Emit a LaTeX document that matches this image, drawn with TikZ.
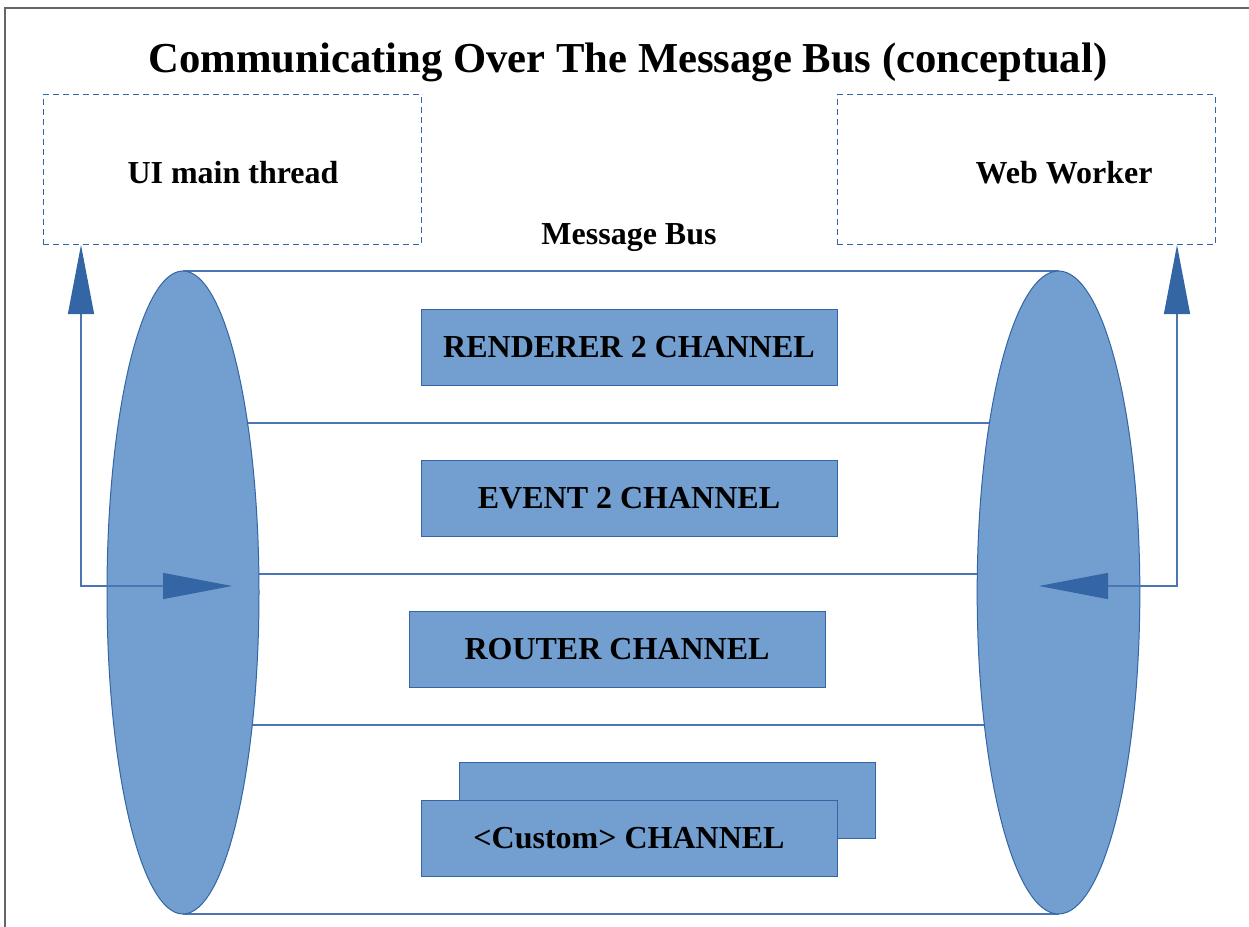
\documentclass[tikz,border=0pt]{standalone}
\usepackage{fontspec}
\setmainfont{Liberation Serif}
\usetikzlibrary{shapes.geometric,arrows.meta,backgrounds}
\definecolor{fillblue}{HTML}{729FCF}
\definecolor{edgeblue}{HTML}{3465A4}
\definecolor{lineblue}{HTML}{4A76B8}
\begin{document}
\begin{tikzpicture}[x=0.75pt,y=-0.75pt,
  lbl/.style={font=\bfseries\fontsize{24}{28}\selectfont},
  chan/.style={lbl, draw=edgeblue, fill=fillblue, line width=0.75pt, minimum width=312pt, minimum height=57pt, inner sep=0pt, outer sep=0pt},
  side/.style={draw=edgeblue, dash pattern=on 4.5pt off 3pt, line width=0.75pt, minimum width=283.5pt, minimum height=112.5pt, inner sep=0pt, outer sep=0pt},
  disc/.style={ellipse, draw=edgeblue, fill=fillblue, line width=0.75pt, minimum height=482.25pt, inner sep=0pt, outer sep=0pt},
  rail/.style={draw=lineblue, line width=0.9pt},
  link/.style={rail, {Triangle[length=51.75pt,width=19.5pt,color=edgeblue,fill=edgeblue]}-{Triangle[length=51.75pt,width=19.5pt,color=edgeblue,fill=edgeblue]}}
]
\useasboundingbox (0,0) rectangle (1249,927);
\draw[gray!80!black, line width=1.5pt] (5,927) -- (5,8) -- (1249,8);

\node[font=\bfseries\fontsize{32}{38}\selectfont] (title) at (628,62) {Communicating Over The Message Bus (conceptual)};

\node[side] (ui) at (232,170) {};
\node[lbl] (uilabel) at (233,173) {UI main thread};
\node[side] (ww) at (1026,170) {};
\node[lbl] (wwlabel) at (1064,173) {Web Worker};
\node[lbl] (bus) at (629,238) {Message Bus};

\node[disc, minimum width=114pt] (le) at (183,592.5) {};
\node[disc, minimum width=122pt] (re) at (1058.5,592.5) {};
\begin{scope}[on background layer]
  \draw[rail] (le.north) -- (re.north);
  \draw[rail] (le.south) -- (re.south);
  \draw[rail] (le.center |- 0,423) -- (re.center |- 0,423);
  \draw[rail] (le.center |- 0,574) -- (re.center |- 0,574);
  \draw[rail] (le.center |- 0,725) -- (re.center |- 0,725);
\end{scope}

\node[chan] (rend) at (629,347) {RENDERER 2 CHANNEL};
\node[chan] (evt) at (629,498) {EVENT 2 CHANNEL};
\node[chan] (rout) at (617,649) {ROUTER CHANNEL};
\node[chan] (custback) at (667,800.5) {};
\node[chan] (cust) at (629,838) {<Custom> CHANNEL};

\coordinate (lin) at (232,586);
\coordinate (rin) at (1039,586);
\draw[link] ([xshift=28.5pt]ui.south west) |- (lin);
\draw[link] ([xshift=-28.5pt]ww.south east) |- (rin);
\end{tikzpicture}
\end{document}
